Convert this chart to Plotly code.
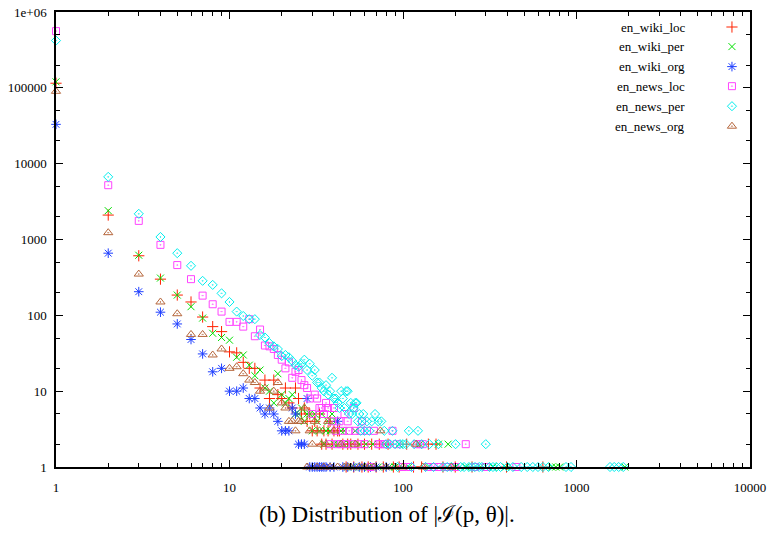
import plotly.graph_objects as go

# ---------------- data ----------------
series_names = ["en_wiki_loc", "en_wiki_per", "en_wiki_org",
                "en_news_loc", "en_news_per", "en_news_org"]

wiki_loc_x = [1, 2, 3, 4, 5, 6, 7, 8, 9, 10, 11, 12, 13, 14, 15, 16, 17, 18, 19, 20,
              21, 22, 23, 24, 25, 26, 27, 28, 29, 30, 31, 32, 33, 34, 35, 36, 37, 38, 39, 40,
              42, 43, 45, 47, 48, 50, 52, 55, 58, 60, 63, 66, 70, 73, 77, 82, 88, 95, 105, 115,
              128, 140, 155, 170, 200, 250, 395, 640]
wiki_loc_y = [115000, 2100, 610, 300, 185, 150, 95, 71, 61, 33, 32, 24, 20, 20, 11, 14, 8, 14, 9, 8,
              11, 7, 6, 11, 8, 5, 6, 4, 5, 3, 4, 3, 5, 2, 3, 2, 3, 4, 2, 3,
              3, 3, 2, 1, 2, 2, 1, 2, 1, 2, 1, 2, 1, 2, 1, 2, 1, 1, 2, 1,
              1, 2, 2, 1, 1, 1, 1, 1]

wiki_per_x = [1, 2, 3, 4, 5, 6, 7, 8, 9, 10, 11, 12, 13, 14, 15, 16, 17, 18, 19, 20,
              21, 22, 23, 24, 25, 26, 27, 28, 29, 30, 31, 32, 33, 34, 35, 36, 37, 38, 39, 40,
              41, 42, 44, 45, 46, 48, 49, 51, 53, 56, 58, 61, 64, 67, 72, 78, 83, 90, 95, 108,
              125, 140, 160, 182, 200, 230, 280, 330, 390, 720, 760, 800, 1900]
wiki_per_y = [120000, 2400, 620, 310, 185, 130, 92, 58, 51, 47, 28, 30, 22, 16, 19, 11, 10, 7, 17, 9,
              7, 8, 9, 5, 5, 6, 4, 5, 5, 3, 5, 4, 3, 5, 2, 3, 4, 3, 5, 2,
              4, 2, 3, 2, 3, 1, 2, 1, 3, 2, 1, 2, 1, 2, 1, 2, 1, 1, 2, 1,
              2, 1, 2, 2, 1, 1, 1, 1, 1, 1, 1, 1, 1]

wiki_org_x = [1, 2, 3, 4, 5, 6, 7, 8, 9, 10, 11, 12, 13, 14, 15, 16, 17, 18, 19, 20,
              21, 22, 23, 24, 25, 26, 27, 28, 29, 30, 31, 32, 33, 34, 35, 36, 38, 40, 42, 45,
              48, 52, 56, 60, 65, 70, 80]
wiki_org_y = [33000, 660, 205, 110, 77, 48, 31, 18, 20, 10, 10, 11, 8, 8, 6, 5, 6, 5, 4, 3,
              3, 3, 6, 5, 2, 2, 2, 8, 1, 1, 1, 1, 1, 1, 1, 1, 1, 1, 4, 1,
              1, 1, 1, 1, 1, 1, 1]

news_loc_x = [1, 2, 3, 4, 5, 6, 7, 8, 9, 10, 11, 12, 13, 14, 15, 16, 17, 18, 19, 20,
              21, 22, 23, 24, 25, 26, 27, 28, 29, 30, 31, 32, 33, 34, 35, 36, 37, 38, 39, 40,
              41, 42, 43, 44, 45, 46, 47, 48, 49, 51, 52, 53, 55, 57, 58, 60, 62, 65, 68, 72,
              74, 78, 81, 87, 92, 100, 110, 120, 125, 130, 140, 150, 160, 180, 200, 230, 260, 300, 450]
news_loc_y = [560000, 5200, 1760, 850, 460, 300, 182, 140, 112, 82, 82, 71, 89, 53, 65, 40, 39, 36, 30, 26,
              20, 24, 15, 18, 19, 14, 12, 11, 8, 5, 9, 8, 6, 6, 5, 7, 6, 2, 4, 6,
              3, 2, 4, 2, 3, 5, 2, 4, 3, 2, 6, 3, 2, 3, 4, 2, 3, 1, 3, 2,
              2, 2, 2, 3, 2, 1, 1, 2, 2, 2, 1, 1, 1, 1, 1, 2, 1, 1, 1]

news_per_x = [1, 2, 3, 4, 5, 6, 7, 8, 9, 10, 11, 12, 13, 14, 15, 16, 17, 18, 19, 20,
              21, 22, 23, 24, 25, 26, 27, 28, 29, 30, 31, 32, 33, 34, 35, 36, 37, 38, 39, 40,
              41, 42, 43, 44, 45, 46, 47, 48, 49, 50, 51, 52, 53, 54, 55, 56, 57, 58, 59, 60,
              62, 64, 66, 69, 72, 75, 78, 80, 84, 87, 90, 93, 96, 100, 104, 108, 112, 116, 122, 128,
              135, 142, 150, 160, 170, 180, 190, 201, 215, 225, 240, 250, 260, 275, 285, 300, 315, 330, 345, 365,
              400, 430, 480, 520, 560, 600, 640, 690, 870, 930, 1560, 1650, 1750, 1860]
news_per_y = [420000, 6700, 2180, 1080, 660, 450, 285, 252, 195, 150, 112, 98, 89, 89, 55, 51, 43, 39, 36, 29,
              30, 28, 25, 22, 21, 23, 26, 19, 23, 16, 19, 13, 13, 11, 10, 12, 9, 10, 15, 8,
              8, 7, 6, 10, 8, 6, 10, 10, 5, 7, 5, 6, 7, 7, 4, 5, 3, 4, 5, 3,
              4, 3, 4, 5, 4, 4, 3, 2, 2, 3, 2, 1, 2, 2, 2, 3, 1, 2, 3, 2,
              1, 2, 1, 2, 1, 1, 1, 2, 1, 1, 1, 1, 1, 1, 1, 2, 1, 1, 1, 1,
              1, 1, 1, 1, 1, 1, 1, 1, 1, 1, 1, 1, 1, 1]

news_org_x = [1, 2, 3, 4, 5, 6, 7, 8, 9, 10, 11, 12, 13, 14, 15, 16, 17, 18, 19, 20,
              21, 22, 23, 24, 25, 26, 27, 28, 29, 30, 31, 32, 33, 34, 35, 36, 37, 38, 40, 42,
              44, 46, 48, 50, 53, 56, 60, 64, 68, 74, 80, 90, 100, 119, 130, 190]
news_org_y = [90000, 1230, 350, 150, 105, 56, 56, 30, 36, 20, 21, 17, 14, 13, 10, 11, 6, 10, 13, 7,
              6, 4, 4, 3, 4, 4, 6, 1, 3, 2, 4, 1, 3, 2, 1, 2, 4, 1, 3, 1,
              2, 1, 1, 1, 2, 1, 1, 1, 1, 3, 1, 1, 1, 2, 1, 1]

x_tickvals = [1, 10, 100, 1000, 10000]
x_ticktext = ["1", "10", "100", "1000", "10000"]
y_tickvals = [1, 10, 100, 1000, 10000, 100000, 1000000]
y_ticktext = ["1", "10", "100", "1000", "10000", "100000", "1e+06"]

caption = "(b) Distribution of |\u2110(p, \u03b8)|."

# ---------------- styles ----------------
symbols = ["cross-thin-open", "x-thin-open", "asterisk-open",
           "square-open-dot", "diamond-open-dot", "triangle-up-open-dot"]
colors = ["#ff2200", "#00e000", "#1f3fff", "#ff44ff", "#00eeee", "#b5653a"]
sizes = [8, 7, 8, 7, 7, 8]
series_x = [wiki_loc_x, wiki_per_x, wiki_org_x, news_loc_x, news_per_x, news_org_x]
series_y = [wiki_loc_y, wiki_per_y, wiki_org_y, news_loc_y, news_per_y, news_org_y]

serif = "Liberation Serif, DejaVu Serif, serif"

fig = go.Figure()
for name, xs, ys, sym, col, sz in zip(series_names, series_x, series_y, symbols, colors, sizes):
    fig.add_trace(go.Scatter(
        x=xs, y=ys, mode="markers", name=name, showlegend=False, cliponaxis=False,
        marker=dict(symbol=sym, size=sz, color=col, line=dict(width=1, color=col)),
    ))

# custom legend (text right-aligned, key on the right like gnuplot)
legend_y = [0.967, 0.924, 0.880, 0.837, 0.793, 0.749]
for name, sym, col, sz, ly in zip(series_names, symbols, colors, sizes, legend_y):
    fig.add_trace(go.Scatter(
        x=[0.974], y=[ly], xaxis="x2", yaxis="y2", mode="markers", showlegend=False,
        hoverinfo="skip", cliponaxis=False,
        marker=dict(symbol=sym, size=sz, color=col, line=dict(width=1, color=col)),
    ))
    fig.add_annotation(xref="paper", yref="paper", x=0.909, y=ly, text=name,
                       showarrow=False, xanchor="right", yanchor="middle",
                       font=dict(family=serif, size=13, color="black"))

fig.add_annotation(xref="paper", yref="paper", x=0.477, y=-0.105, text=caption,
                   showarrow=False, xanchor="center", yanchor="middle",
                   font=dict(family=serif, size=23, color="black"))

x_minor = [k * 10 ** d for d in range(4) for k in range(2, 10)]
y_minor = [k * 10 ** d for d in range(6) for k in (2, 5)]

axis_common = dict(
    type="log", showline=True, linecolor="black", linewidth=1.5, mirror="allticks",
    ticks="inside", ticklen=7, tickwidth=1.2, tickcolor="black",
    showgrid=False, zeroline=False, tickmode="array", automargin=False,
    ticklabeloverflow="allow",
    tickfont=dict(family=serif, size=13, color="black"),
)

fig.update_layout(
    width=768, height=540,
    margin=dict(l=56, r=18, t=12, b=73),
    paper_bgcolor="white", plot_bgcolor="white",
    showlegend=False,
    xaxis=dict(axis_common, range=[0, 4], tickvals=x_tickvals, ticktext=x_ticktext,
               ticklabelstandoff=8,
               minor=dict(ticks="inside", ticklen=4, tickwidth=1, tickcolor="black",
                          tickmode="array", tickvals=x_minor, showgrid=False)),
    yaxis=dict(axis_common, range=[0, 6], tickvals=y_tickvals, ticktext=y_ticktext,
               ticklabelstandoff=5,
               minor=dict(ticks="inside", ticklen=4, tickwidth=1, tickcolor="black",
                          tickmode="array", tickvals=y_minor, showgrid=False)),
    xaxis2=dict(overlaying="x", range=[0, 1], visible=False, anchor="y2"),
    yaxis2=dict(overlaying="y", range=[0, 1], visible=False, anchor="x2"),
)

# remove the default 8px page margin so the 768x540 figure fills the window exactly
fig.write_html("out.html",
               config={"displayModeBar": False},
               post_script="document.body.style.margin='0';document.body.style.overflow='hidden';")
